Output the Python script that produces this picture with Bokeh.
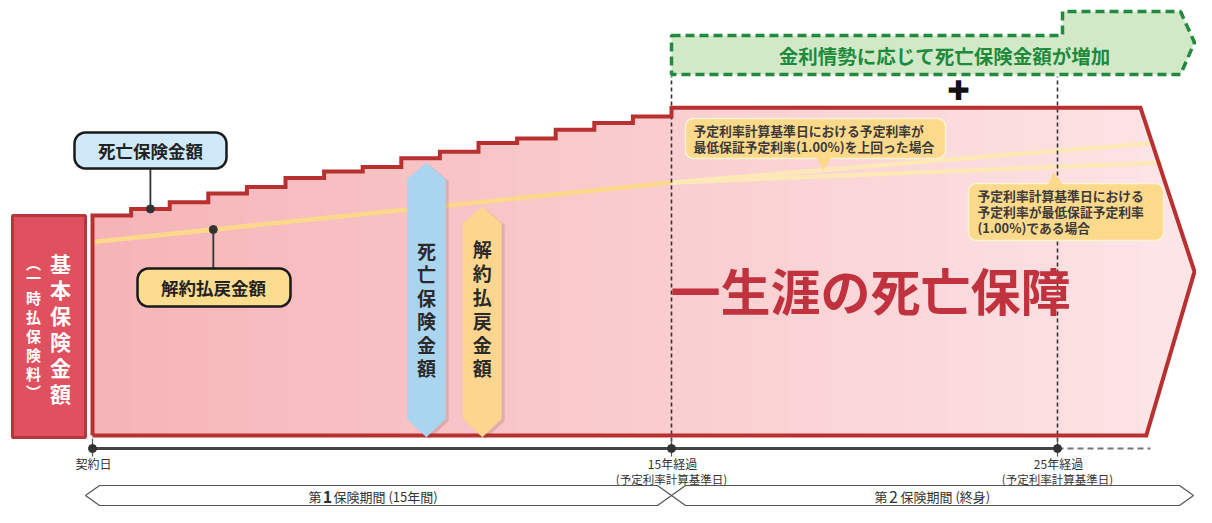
import numpy as np
from bokeh.plotting import figure
from bokeh.models import Range1d
from bokeh.core.properties import value
from bokeh.embed import file_html
from bokeh.resources import INLINE

# ---------------- data ----------------
years = list(range(16))                      # policy years 0..15 (first insurance period)
death_benefit = [100, 103, 106, 110, 113, 117, 120, 122, 126, 129, 133, 135, 139, 142, 145, 149]
base_amount = 100                            # 基本保険金額（一時払保険料）
surrender_years = [0, 15]
surrender_values = [88, 115]
high_rate_years = [15, 27.5]                 # 予定利率が最低保証予定利率を上回った場合
high_rate_values = [115, 133]
min_rate_years = [15, 27.7]                  # 予定利率が最低保証予定利率である場合
min_rate_values = [115, 124]
flat_end_year = 27.15
tip_year = 28.55
bottom_end_year = 27.3
milestone_years = [0, 15, 25]
milestone_labels = ["契約日", "15年経過", "25年経過"]
milestone_sublabels = ["", "(予定利率計算基準日)", "(予定利率計算基準日)"]
death_arrow_year, death_arrow_top = 8.65, 124
surr_arrow_year, surr_arrow_top = 10.1, 104

JP = "Noto Sans CJK JP"

# pixel <-> data helpers for layout annotations
X0, SX, Y0, SY = 92.0, 38.6, 435.0, 2.2
def X(px): return (px - X0) / SX
def Y(py): return (Y0 - py) / SY
def PX(x): return X0 + x * SX
def PY(y): return Y0 - y * SY

W, H = 1196, 507
p = figure(width=W, height=H, output_backend="svg", toolbar_location=None,
           x_axis_location=None, y_axis_location=None,
           x_range=Range1d(X(0), X(W)), y_range=Range1d(Y(H), Y(0)),
           min_border=0, min_border_left=0, min_border_right=0,
           min_border_top=0, min_border_bottom=0)
p.outline_line_color = None
p.grid.visible = False
p.background_fill_color = "white"
p.border_fill_color = "white"

def mix(c1, c2, t):
    a = [int(c1[i:i+2], 16) for i in (1, 3, 5)]
    b = [int(c2[i:i+2], 16) for i in (1, 3, 5)]
    return "#" + "".join(f"{int(round(a[k] + (b[k]-a[k])*t)):02x}" for k in range(3))

def T(px, py, s, size, color="#333333", align="center", bold=True, font=JP):
    p.text(x=[X(px)], y=[Y(py)], text=[s], text_font=value(font),
           text_font_size=value(f"{size}px"),
           text_font_style="bold" if bold else "normal",
           text_color=color, text_align=align, text_baseline="middle")

def rrect(x0, y0, x1, y1, r, n=8):
    pts = []
    for cx, cy, a0, a1 in [(x1-r, y0+r, -90, 0), (x1-r, y1-r, 0, 90),
                           (x0+r, y1-r, 90, 180), (x0+r, y0+r, 180, 270)]:
        for a in np.linspace(a0, a1, n):
            t = np.radians(a)
            pts.append((cx + r*np.cos(t), cy + r*np.sin(t)))
    return [X(q[0]) for q in pts], [Y(q[1]) for q in pts]

# ---------------- green dashed banner ----------------
g = [(671, 35), (1062, 35), (1062, 11), (1180, 11), (1194, 42), (1180, 74), (671, 74)]
p.patch([X(a) for a, b in g], [Y(b) for a, b in g], fill_color="#d2e9c8",
        line_color="#22893f", line_width=3.5, line_dash="9 5")
T(944, 55, "金利情勢に応じて死亡保険金額が増加", 19.5, color="#1f8a3c")
T(958, 90, "✚", 27, color="#111111", font="DejaVu Sans")

# ---------------- base premium box ----------------
p.quad(left=[X(12)], right=[X(85)], bottom=[Y(437)], top=[base_amount],
       fill_color="#e0515f", line_color="#b6363c", line_width=3)
big = "基本保険金額"
for ch, yy in zip(big, [262, 288, 314, 340, 366, 392]):
    T(60, yy, ch, 21, color="white")
small = "︵一時払保険料︶"
for ch, yy in zip(small, [262, 277, 297, 316, 335, 354, 373, 391]):
    T(33, yy, ch, 15, color="white")

# ---------------- main shape ----------------
ox, oy = [0, 0], [0, death_benefit[0]]
for i in range(1, 16):
    ox += [i, i]
    oy += [death_benefit[i-1], death_benefit[i]]
ox += [flat_end_year, tip_year, bottom_end_year, 0]
oy += [death_benefit[-1], death_benefit[-1] / 2, 0, 0]

c_left, c_right = "#f5b4b7", "#fde5e7"
p.patch(ox, oy, fill_color=c_right, line_color=None)
# horizontal gradient strips
lefts, rights, tops, cols = [], [], [], []
for i in range(15):
    lefts.append(i); rights.append(i + 1.15); tops.append(death_benefit[i])
    cols.append(mix(c_left, c_right, (i + 0.5) / tip_year))
edges = np.linspace(15, flat_end_year, 13)
for a, b in zip(edges[:-1], edges[1:]):
    lefts.append(a); rights.append(min(b + 0.15, flat_end_year)); tops.append(death_benefit[-1])
    cols.append(mix(c_left, c_right, (a + b) / 2 / tip_year))
p.quad(left=lefts, right=rights, bottom=[0]*len(lefts), top=tops,
       fill_color=cols, line_color=None)

# surrender value lines
p.line(surrender_years, surrender_values, line_color="#fcd98a", line_width=4.5)
p.line(high_rate_years, high_rate_values, line_color="#fde8b8", line_width=4.5)
p.line(min_rate_years, min_rate_values, line_color="#fde8b8", line_width=4.5)

# dashed milestone verticals
TL = 448
for yr in milestone_years[1:]:
    p.line([yr, yr], [Y(TL), Y(76)], line_color="#333333", line_width=1.6, line_dash="4 3")

# outline
p.line(ox, oy, line_color="#b8302f", line_width=4, line_join="miter")

# ---------------- big text ----------------
T(870, 288, "一生涯の死亡保障", 50, color="#c0323d")

# ---------------- vertical double arrows ----------------
def varrow(xc, top, color, label, ys):
    hw, tip = 0.5, 7.5
    xs = [xc - hw, xc, xc + hw, xc + hw, xc, xc - hw]
    yv = [top - tip, top, top - tip, tip, -0.8, tip]
    dx, dy = 3 / SX, -2 / SY
    p.patch([v + dx for v in xs], [v + dy for v in yv], fill_color="#7a3a3a",
            fill_alpha=0.18, line_color=None)
    p.patch(xs, yv, fill_color=color, line_color=None)
    for ch, yy in zip(label, ys):
        T(PX(xc), yy, ch, 19, color="#2a2a2a")

varrow(death_arrow_year, death_arrow_top, "#a9d5f1", "死亡保険金額",
       [250, 273, 297, 320, 344, 367])
varrow(surr_arrow_year, surr_arrow_top, "#fcd68e", "解約払戻金額",
       [248, 272, 296, 320, 344, 367])

# ---------------- callouts ----------------
# 死亡保険金額
dot_x = 1.5
p.line([dot_x, dot_x], [death_benefit[1], Y(168)], line_color="#333333", line_width=1.8)
p.scatter([dot_x], [death_benefit[1]], size=8, color="#333333")
xs, ys = rrect(74, 132, 226, 168, 11)
p.patch(xs, ys, fill_color="#cfe9f8", line_color="#1a1a1a", line_width=2.5)
T(150, 150, "死亡保険金額", 17.5, color="#222222")

# 解約払戻金額
sx = 3.13
sv = np.interp(sx, surrender_years, surrender_values)
p.line([sx, sx], [sv, Y(268)], line_color="#333333", line_width=1.8)
p.scatter([sx], [sv], size=8, color="#333333")
xs, ys = rrect(137, 268, 290, 306, 11)
p.patch(xs, ys, fill_color="#fcdc8f", line_color="#1a1a1a", line_width=2.5)
T(213, 287, "解約払戻金額", 17.5, color="#222222")

# bubble a
xs, ys = rrect(685, 118, 945, 158, 8)
p.patch(xs, ys, fill_color="#fdd98b", line_color="#fff3d6", line_width=1.5)
tri = [(816, 157), (823, 170), (831, 157)]
p.patch([X(a) for a, b in tri], [Y(b) for a, b in tri], fill_color="#fdd98b", line_color=None)
T(693, 130, "予定利率計算基準日における予定利率が", 12.8, color="#3a3a3a", align="left")
T(693, 146, "最低保証予定利率(1.00%)を上回った場合", 12.8, color="#3a3a3a", align="left")

# bubble b
xs, ys = rrect(968, 183, 1163, 240, 8)
p.patch(xs, ys, fill_color="#fdd98b", line_color="#fff3d6", line_width=1.5)
tri = [(1047, 185), (1053, 172), (1063, 185)]
p.patch([X(a) for a, b in tri], [Y(b) for a, b in tri], fill_color="#fdd98b", line_color=None)
T(977, 195, "予定利率計算基準日における", 12.8, color="#3a3a3a", align="left")
T(977, 211, "予定利率が最低保証予定利率", 12.8, color="#3a3a3a", align="left")
T(977, 227, "(1.00%)である場合", 12.8, color="#3a3a3a", align="left")

# ---------------- timeline ----------------
ty = Y(TL)
p.line([milestone_years[0], milestone_years[-1]], [ty, ty], line_color="#444444", line_width=3)
p.line([milestone_years[-1], X(1150)], [ty, ty], line_color="#777777", line_width=2, line_dash="6 4")
for yr in milestone_years:
    p.line([yr, yr], [Y(438), Y(TL + 8)], line_color="#555555", line_width=1.2)
p.scatter(milestone_years, [ty]*3, size=8, color="#333333")
for yr, lab, sub in zip(milestone_years, milestone_labels, milestone_sublabels):
    T(PX(yr) + 1, TL + 15, lab, 12, color="#333333", bold=False)
    if sub:
        T(PX(yr), TL + 30, sub, 11.5, color="#333333", bold=False)

# period bands
BY = 495
def band(x0, x1, yc=BY, h=10, d=14):
    pts = [(x0, yc), (x0 + d, yc - h), (x1 - d, yc - h), (x1, yc), (x1 - d, yc + h), (x0 + d, yc + h)]
    p.patch([X(a) for a, b in pts], [Y(b) for a, b in pts], fill_color="white",
            line_color="#555555", line_width=1.2)

band(85, PX(15))
band(PX(15), 1193)
T(321, BY + 1, "第", 13, color="#333333", align="right", bold=False)
T(327, BY + 1, "1", 16, color="#333333", bold=True)
T(333, BY + 1, "保険期間 (15年間)", 13, color="#333333", align="left", bold=False)
T(887, BY + 1, "第", 13, color="#333333", align="right", bold=False)
T(893, BY + 1, "2", 16, color="#333333", bold=False)
T(900, BY + 1, "保険期間 (終身)", 13, color="#333333", align="left", bold=False)

open("out.html", "w").write(file_html(p, INLINE))
